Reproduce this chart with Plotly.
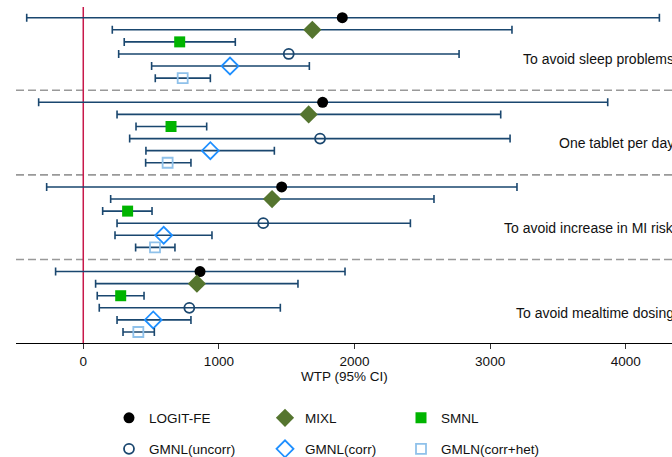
import plotly.graph_objects as go

# ---- data ----
groups = ["To avoid sleep problems", "One tablet per day",
          "To avoid increase in MI risk", "To avoid mealtime dosing"]
models = ["LOGIT-FE", "MIXL", "SMNL", "GMNL(uncorr)", "GMNL(corr)", "GMLN(corr+het)"]

# estimates per model, one value per group (in the order of `groups`)
logit_est = [1910, 1765, 1463, 861]
logit_lo = [-417, -329, -270, -204]
logit_hi = [4248, 3867, 3198, 1930]

mixl_est = [1689, 1662, 1392, 838]
mixl_lo = [214, 249, 202, 91]
mixl_hi = [3161, 3078, 2586, 1583]

smnl_est = [711, 647, 327, 276]
smnl_lo = [302, 389, 143, 103]
smnl_hi = [1121, 910, 507, 448]

gmnlu_est = [1515, 1746, 1327, 782]
gmnlu_lo = [261, 342, 249, 118]
gmnlu_hi = [2771, 3147, 2412, 1453]

gmnlc_est = [1082, 937, 593, 516]
gmnlc_lo = [504, 462, 234, 249]
gmnlc_hi = [1667, 1409, 949, 794]

gmln_est = [733, 622, 529, 406]
gmln_lo = [531, 460, 386, 293]
gmln_hi = [937, 794, 676, 524]

xticks = [0, 1000, 2000, 3000, 4000]

series = [
    (logit_est, logit_lo, logit_hi),
    (mixl_est, mixl_lo, mixl_hi),
    (smnl_est, smnl_lo, smnl_hi),
    (gmnlu_est, gmnlu_lo, gmnlu_hi),
    (gmnlc_est, gmnlc_lo, gmnlc_hi),
    (gmln_est, gmln_lo, gmln_hi),
]

# ---- styles ----
NAVY = "#1a476f"
styles = [
    dict(symbol="circle", size=11, color="#000000", line=dict(width=0)),
    dict(symbol="diamond", size=14, color="#55752f", line=dict(width=0)),
    dict(symbol="square", size=11, color="#00b400", line=dict(width=0)),
    dict(symbol="circle-open", size=10, color=NAVY, line=dict(width=1.8, color=NAVY)),
    dict(symbol="diamond-open", size=13, color="#1e8fff", line=dict(width=1.8, color="#1e8fff")),
    dict(symbol="square-open", size=10, color="#8fc1ea", line=dict(width=1.8, color="#8fc1ea")),
]
legend_of = ["legend", "legend2", "legend3", "legend", "legend2", "legend3"]

FONT = "Liberation Sans, Arial, Helvetica, sans-serif"
TXT = "#111111"

fig = go.Figure()
for i, (name, (est, lo, hi)) in enumerate(zip(models, series)):
    ys = [7 * g + i for g in range(len(groups))]
    fig.add_trace(go.Scatter(
        x=est, y=ys, mode="markers", name=name,
        legend=legend_of[i], legendgroup=name,
        marker=styles[i],
        error_x=dict(type="data", symmetric=False,
                     array=[h - e for h, e in zip(hi, est)],
                     arrayminus=[e - l for e, l in zip(est, lo)],
                     color=NAVY, thickness=1.6, width=4),
    ))

shapes = []
for g in range(1, len(groups)):
    shapes.append(dict(type="line", xref="paper", x0=0, x1=1, yref="y",
                       y0=7 * g - 1, y1=7 * g - 1,
                       line=dict(color="#999999", width=1.6, dash="8px,4px"),
                       layer="below"))
shapes.append(dict(type="line", xref="x", x0=0, x1=0, yref="paper", y0=0, y1=1,
                   line=dict(color="#c8184a", width=1.5), layer="below"))

annotations = []
for g, lab in enumerate(groups):
    annotations.append(dict(text=lab, xref="paper", x=1, xanchor="right", xshift=4,
                            yref="y", y=7 * g + 3.4, yanchor="middle",
                            showarrow=False, font=dict(size=14, color=TXT, family=FONT)))
annotations.append(dict(text="WTP (95% CI)", xref="paper", x=0.5, xanchor="center",
                        yref="paper", y=0, yanchor="middle", yshift=-33,
                        showarrow=False, font=dict(size=13.5, color=TXT, family=FONT)))

PLOT_H = 336
leg_common = dict(orientation="v", yref="paper", yanchor="top", y=-59.5 / PLOT_H,
                  xanchor="left", traceorder="grouped", tracegroupgap=10.5,
                  font=dict(size=13.5, color=TXT, family=FONT),
                  bgcolor="rgba(0,0,0,0)")

# figure is a little taller than the 457px window; the extra strip below is blank
FIG_H = 480
fig.update_layout(
    width=672, height=FIG_H,
    margin=dict(l=16, r=0, t=7, b=FIG_H - 7 - PLOT_H),
    paper_bgcolor="white", plot_bgcolor="white",
    font=dict(family=FONT, size=13.5, color=TXT),
    showlegend=True,
    legend=dict(x=(109 - 16) / 656, **leg_common),
    legend2=dict(x=(265 - 16) / 656, **leg_common),
    legend3=dict(x=(401 - 16) / 656, **leg_common),
    shapes=shapes,
    annotations=annotations,
    xaxis=dict(range=[-496, 4341], tickvals=xticks, ticktext=[str(t) for t in xticks],
               showline=True, linecolor="#000", linewidth=1.2,
               ticks="outside", ticklen=5, tickcolor="#333", tickwidth=1,
               showgrid=False, zeroline=False, ticklabelstandoff=1,
               tickfont=dict(size=13.5, color=TXT, family=FONT)),
    yaxis=dict(range=[26.91, -0.885], visible=False, showgrid=False, zeroline=False),
)

# remove the default page margin so the figure sits at the window's top-left corner
fig.write_html("out.html", config={"displayModeBar": False},
               post_script="document.body.style.margin='0px';document.body.style.overflow='hidden';")
